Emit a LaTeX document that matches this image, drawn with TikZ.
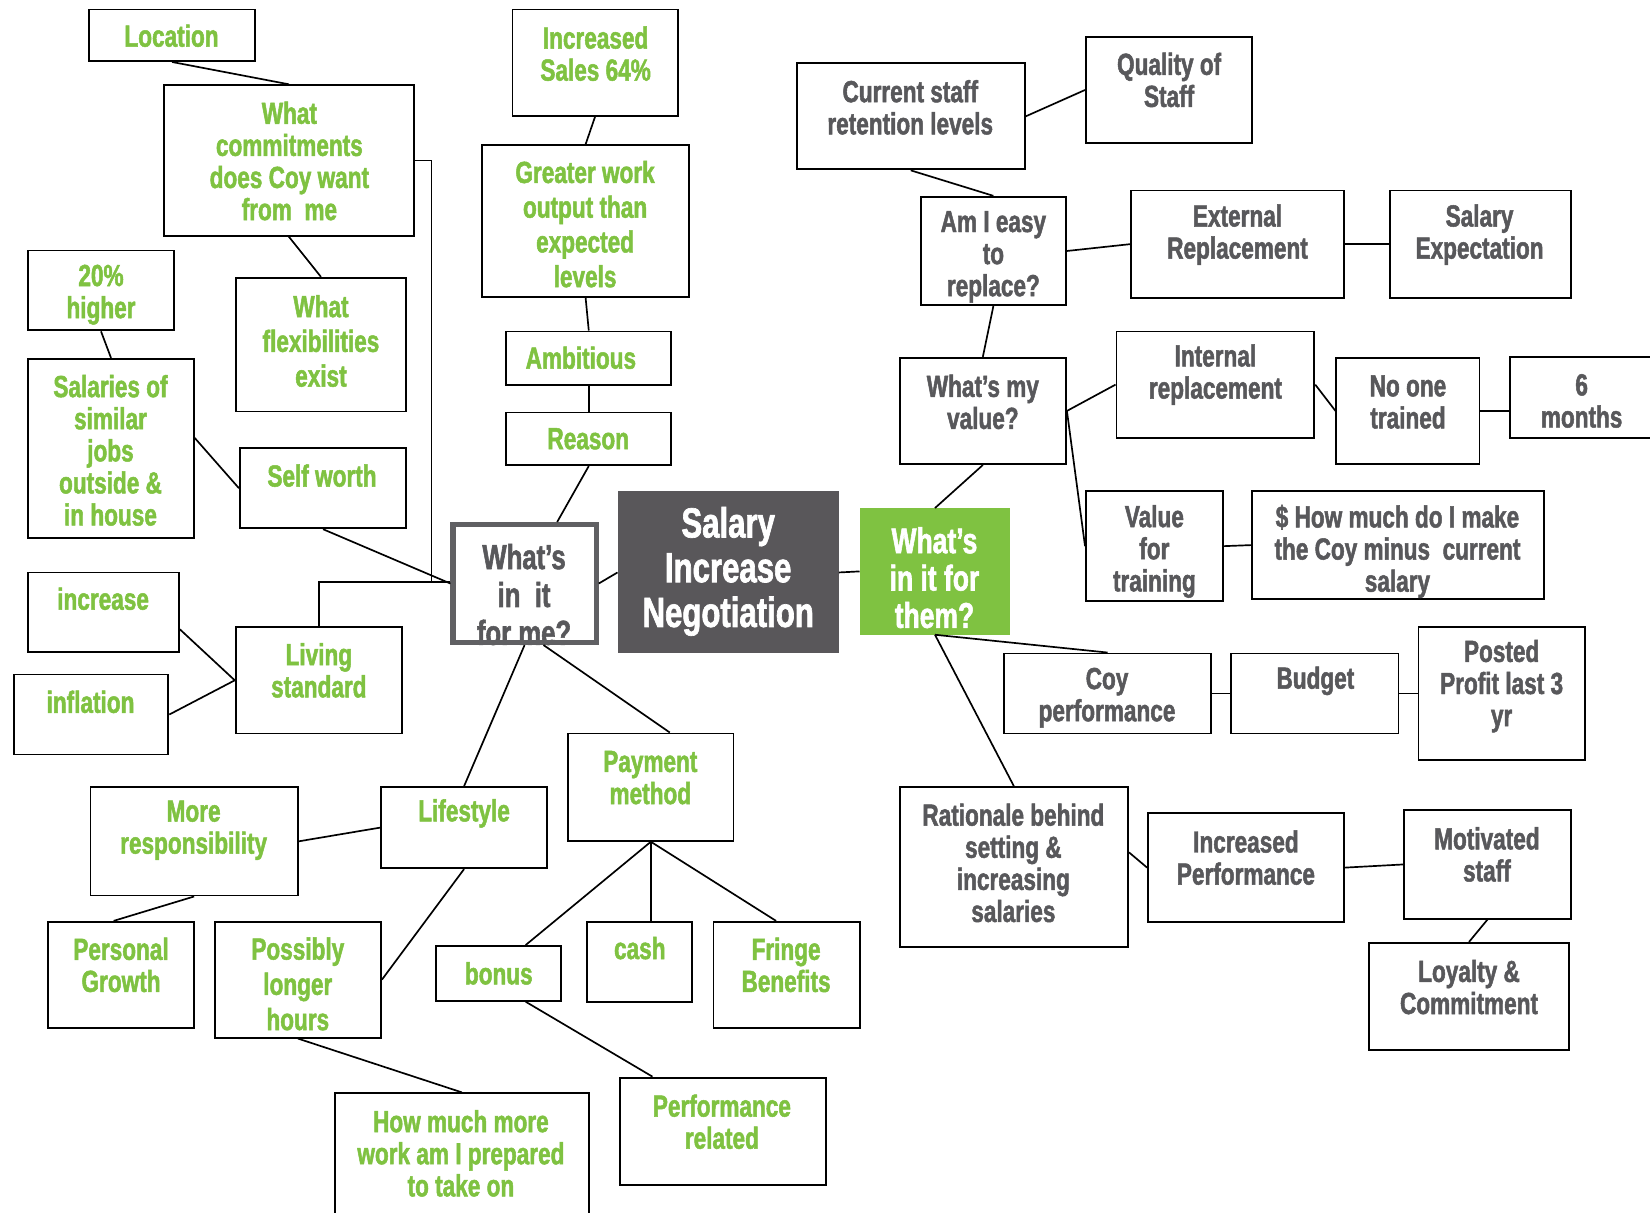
\documentclass[tikz,border=0pt]{standalone}
\usepackage{fontspec}
\newfontfamily\boxfont{Liberation Sans}[FakeStretch=0.74, BoldFeatures={FakeBold=1.6}]
\newcommand\diagfont{\boxfont\bfseries}
\usetikzlibrary{fit,calc}
\definecolor{leafgreen}{HTML}{7FC241}
\definecolor{slategray}{HTML}{58585B}
\definecolor{darkfill}{HTML}{59575A}
\begin{document}
\begin{tikzpicture}[x=1pt,y=-1pt,
  box/.style={draw=black, line width=1.8pt, inner sep=0pt},
  link/.style={draw=black, line width=1.6pt},
  gtxt/.style={text=leafgreen, align=center, inner sep=0pt, font=\diagfont\fontsize{29}{#1}\selectfont},
  gtxt/.default=30.5,
  ktxt/.style={text=slategray, align=center, inner sep=0pt, font=\diagfont\fontsize{29}{#1}\selectfont},
  ktxt/.default=30.5]
\useasboundingbox (0,0) rectangle (1568,1152);
\fill[white] (0,0) rectangle (1568,1152);
\clip (0,0) rectangle (1568,1152);

% ---------- central nodes ----------
\node[fill=darkfill, inner sep=0pt, fit={(587,467) (797,621)}] (sin) {};
\node[text=white, align=center, inner sep=0pt, font=\diagfont\fontsize{40}{42.5}\selectfont] (sint) at (692,543) {Salary\\Increase\\Negotiation};
\node[fill=leafgreen, inner sep=0pt, fit={(817,483) (960,603)}] (them) {};
\node[text=white, align=center, inner sep=0pt, font=\diagfont\fontsize{34}{35.5}\selectfont] (themt) at (888,549) {What’s\\in it for\\them?};
\node[text=slategray, align=center, inner sep=0pt, font=\diagfont\fontsize{33}{36}\selectfont] (met) at (498,565) {What’s\\in\ \ it\\for me?};
\node[draw=slategray!95, line width=5pt, inner sep=0pt, fit={(430.5,498.5) (566.5,610.5)}] (me) {};

% ---------- left branch ----------
\node[box, fit={(85,9) (242,58)}] (loc) {};
\node[gtxt] at (163,34) {Location};
\node[box, fit={(156,81) (393,224)}] (com) {};
\node[gtxt] at (275,153) {What\\commitments\\does Coy want\\from\ \ me};
\node[box, fit={(27,238) (165,314)}] (hi) {};
\node[gtxt] at (96,280) {20\%\\higher};
\node[box, fit={(224,264) (386,391)}] (flex) {};
\node[gtxt=33] at (305,324) {What\\flexibilities\\exist};
\node[box, fit={(27,341) (184,511)}] (sal) {};
\node[gtxt] at (105,428) {Salaries of\\similar\\jobs\\outside \&\\in house};
\node[box, fit={(228,426) (386,502)}] (sw) {};
\node[gtxt] at (306,452) {Self worth};
\node[box, fit={(27,544) (170,620)}] (inc) {};
\node[gtxt] at (98,569) {increase};
\node[box, fit={(13,641) (160,717)}] (infl) {};
\node[gtxt] at (86,667) {inflation};
\node[box, fit={(224,596) (382,697)}] (liv) {};
\node[gtxt] at (303,637) {Living\\standard};

% ---------- upper middle branch ----------
\node[box, fit={(487,9) (644,110)}] (sales) {};
\node[gtxt] at (566,51) {Increased\\Sales 64\%};
\node[box, fit={(458,138) (655,282)}] (gw) {};
\node[gtxt=33] at (556,213) {Greater work\\output than\\expected\\levels};
\node[box, fit={(481,315) (638,366)}] (amb) {};
\node[gtxt] at (552,340) {Ambitious};
\node[box, fit={(481,392) (638,442)}] (rea) {};
\node[gtxt] at (559,417) {Reason};

% ---------- lower left branch ----------
\node[box, fit={(86,748) (283,851)}] (resp) {};
\node[gtxt] at (184,789) {More\\responsibility};
\node[box, fit={(362,748) (520,825)}] (life) {};
\node[gtxt] at (441,773) {Lifestyle};
\node[box, fit={(46,876) (184,977)}] (pg) {};
\node[gtxt] at (115,917) {Personal\\Growth};
\node[box, fit={(204,876) (362,986)}] (plh) {};
\node[gtxt=33.5] at (283,935) {Possibly\\longer\\hours};
\node[box, fit={(318,1039) (560,1170)}] (hm) {};
\node[gtxt] at (438,1096) {How much more\\work am I prepared\\to take on};
\node[box, fit={(540,697) (697,799)}] (pay) {};
\node[gtxt] at (618,739) {Payment\\method};
\node[box, fit={(414,899) (533,951)}] (bon) {};
\node[gtxt] at (474,925) {bonus};
\node[box, fit={(558,876) (658,952)}] (cash) {};
\node[gtxt] at (608,901) {cash};
\node[box, fit={(678,876) (817,977)}] (fr) {};
\node[gtxt] at (747,917) {Fringe\\Benefits};
\node[box, fit={(589,1024) (785,1126)}] (pr) {};
\node[gtxt] at (686,1066) {Performance\\related};

% ---------- right branch ----------
\node[box, fit={(757,60) (974,161)}] (cur) {};
\node[ktxt] at (865,102) {Current staff\\retention levels};
\node[box, fit={(1032,35) (1190,136)}] (qual) {};
\node[ktxt] at (1111,76) {Quality of\\Staff};
\node[box, fit={(875,187) (1013,290)}] (easy) {};
\node[ktxt] at (944,244) {Am I easy\\to\\replace?};
\node[box, fit={(1075,181) (1277,283)}] (ext) {};
\node[ktxt] at (1176,223) {External\\Replacement};
\node[box, fit={(1321,181) (1493,283)}] (sexp) {};
\node[ktxt] at (1406,223) {Salary\\Expectation};
\node[box, fit={(855,340) (1013,441)}] (val) {};
\node[ktxt] at (934,382) {What’s my\\value?};
\node[box, fit={(1061,315) (1249,416)}] (int) {};
\node[ktxt] at (1155,356) {Internal\\replacement};
\node[box, fit={(1270,340) (1406,441)}] (none) {};
\node[ktxt] at (1338,382) {No one\\trained};
\node[box, fit={(1435,339) (1590,416)}] (six) {};
\node[ktxt] at (1503,381) {6\\months};
\node[box, fit={(1032,467) (1162,571)}] (vft) {};
\node[ktxt] at (1097,524) {Value\\for\\training};
\node[box, fit={(1190,467) (1467,569)}] (howm) {};
\node[ktxt] at (1328,524) {\$ How much do I make\\the Coy minus\ \ current\\salary};
\node[box, fit={(954,621) (1151,697)}] (coy) {};
\node[ktxt] at (1052,663) {Coy\\performance};
\node[box, fit={(1170,621) (1329,697)}] (bud) {};
\node[ktxt] at (1250,647) {Budget};
\node[box, fit={(1348,596) (1506,722)}] (post) {};
\node[ktxt] at (1427,652) {Posted\\Profit last 3\\yr};
\node[box, fit={(855,748) (1072,900)}] (rat) {};
\node[ktxt] at (963,820) {Rationale behind\\setting \&\\increasing\\salaries};
\node[box, fit={(1091,773) (1277,876)}] (ip) {};
\node[ktxt] at (1184,815) {Increased\\Performance};
\node[box, fit={(1334,770) (1493,873)}] (mot) {};
\node[ktxt] at (1413,812) {Motivated\\staff};
\node[box, fit={(1301,896) (1491,998)}] (loy) {};
\node[ktxt] at (1396,938) {Loyalty \&\\Commitment};

% ---------- connectors ----------
\coordinate (j1) at (410,553);
\draw[link] (com.east) -| (j1);
\draw[link] (liv.north) |- ([yshift=1.5pt]me.west);
\draw[link] (loc.south) -- (com.north);
\draw[link] (com.south) -- (flex.north);
\draw[link] (hi.south) -- (sal.north);
\draw[link] ([yshift=10pt]sal.east) -- (sw.west);
\draw[link] (sw.south) -- (me.west);
\draw[link] ([yshift=-16pt]inc.east) -- (liv.west);
\draw[link] (infl.east) -- (liv.west);
\draw[link] (sales.south) -- (gw.north);
\draw[link] (gw.south) -- (amb.north);
\draw[link] (amb.south) -- (rea.north);
\draw[link] (rea.south) -- ([xshift=31pt]me.north);
\draw[link] (me.east) -- (sin.west);
\draw[link] (sin.east) -- (them.west);
\draw[link] (me.south) -- (life.north);
\draw[link] ([xshift=18pt]me.south) -- ([xshift=18pt]pay.north);
\draw[link] (life.west) -- (resp.east);
\draw[link] (resp.south) -- ([xshift=-7pt]pg.north);
\draw[link] (life.south) -- (plh.east);
\draw[link] (plh.south) -- (hm.north);
\draw[link] (pay.south) -- ([xshift=26pt]bon.north);
\draw[link] (pay.south) -- (pay.south |- cash.north);
\draw[link] (pay.south) -- ([xshift=-10pt]fr.north);
\draw[link] ([xshift=26pt]bon.south) -- ([xshift=-67pt]pr.north);

\draw[link] (them.north) -- (val.south);
\draw[link] (val.north) -- (easy.south);
\draw[link] (easy.north) -- (cur.south);
\draw[link] (cur.east) -- (qual.west);
\draw[link] (easy.east) -- (ext.west);
\draw[link] (ext.east) -- (sexp.west);
\draw[link] (val.east) -- (int.west);
\draw[link] (val.east) -- (vft.west);
\draw[link] (int.east) -- (none.west);
\draw[link] (none.east) -- ([yshift=-13pt]six.west);
\draw[link] (vft.east) -- (howm.west);
\draw[link] (them.south) -- (coy.north);
\draw[link] (them.south) -- (rat.north);
\draw[link] (coy.east) -- (bud.west);
\draw[link] (bud.east) -- (post.west);
\draw[link] ([yshift=14pt]rat.east) -- (ip.west);
\draw[link] (ip.east) -- (mot.west);
\draw[link] (mot.south) -- (loy.north);
\end{tikzpicture}
\end{document}
